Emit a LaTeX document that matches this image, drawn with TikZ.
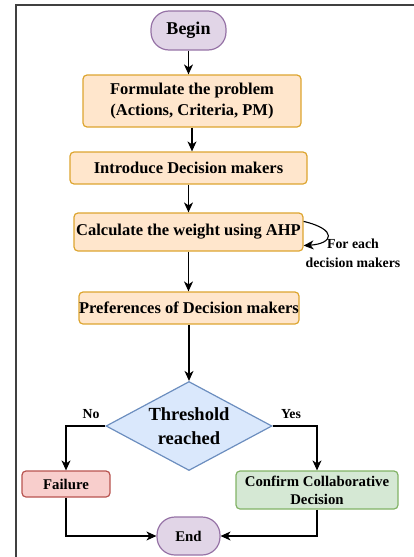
\documentclass[tikz,border=0pt]{standalone}
\usepackage{fontspec}
\setmainfont{Liberation Serif}
\usepackage{tikz}
\usetikzlibrary{arrows.meta,shapes.geometric}
\definecolor{termfill}{HTML}{E1D5E7}
\definecolor{termline}{HTML}{9673A6}
\definecolor{stepfill}{HTML}{FFE6CC}
\definecolor{stepline}{HTML}{DDA530}
\definecolor{testfill}{HTML}{DAE8FC}
\definecolor{testline}{HTML}{6C8EBF}
\definecolor{failfill}{HTML}{F8CECC}
\definecolor{failline}{HTML}{B85450}
\definecolor{okfill}{HTML}{D5E8D4}
\definecolor{okline}{HTML}{82B366}
\tikzset{
	term/.style={draw=termline, fill=termfill, line width=1.2pt, rounded corners=18pt, inner sep=0pt, font=\fontsize{18}{20}\selectfont\bfseries},
	stepbox/.style={draw=stepline, fill=stepfill, line width=1.2pt, rounded corners=4pt, inner sep=0pt, align=center, font=\fontsize{16.5}{21}\selectfont\bfseries},
	smallbox/.style={line width=1.2pt, rounded corners=4pt, inner sep=0pt, align=center, font=\fontsize{14.8}{18}\selectfont\bfseries},
	test/.style={diamond, draw=testline, fill=testfill, line width=1.2pt, inner sep=0pt, aspect=1.86, align=center, font=\fontsize{18.5}{24}\selectfont\bfseries},
	tag/.style={inner sep=0pt, align=center, font=\fontsize{13.8}{19}\selectfont\bfseries},
	arr/.style={-{Stealth[length=10pt,width=9pt,inset=3pt]}, line width=1.1pt, black},
}
\begin{document}
\begin{tikzpicture}[x=1pt,y=-1pt]
			%%%%% START %%%%%
			\useasboundingbox (0,0) rectangle (414,557);
			
			\draw[line width=1.5pt, color=black!75] (16,557) -- (16,5) -- (414,5);
			
			\node[term, minimum width=75pt, minimum height=39pt] (begin) at (188.5,30.5) {Begin};
			\node[stepbox, minimum width=218pt, minimum height=52pt] (formulate) at (192,101) {Formulate the problem\\(Actions, Criteria, PM)};
			\node[stepbox, minimum width=237pt, minimum height=32pt] (introduce) at (188.5,168) {Introduce Decision makers};
			\node[stepbox, minimum width=229pt, minimum height=38pt] (calc) at (188.5,232) {Calculate the weight using AHP};
			\node[stepbox, minimum width=220pt, minimum height=32pt] (pref) at (189,308) {Preferences of Decision makers};
			\node[test, minimum width=166pt, minimum height=89pt] (thresh) at (189,426) {Threshold\\reached};
			\node[smallbox, draw=failline, fill=failfill, minimum width=88pt, minimum height=26pt] (fail) at (66,484) {Failure};
			\node[smallbox, draw=okline, fill=okfill, minimum width=162pt, minimum height=38pt] (confirm) at (317,490) {Confirm Collaborative\\Decision};
			\node[term, minimum width=63pt, minimum height=38pt, font=\fontsize{14.8}{16}\selectfont\bfseries] (end) at (188.5,536) {End};
			
			\node[tag] (loop) at (353,253) {For each\\decision makers};
			\node[tag] (no) at (91,414) {No};
			\node[tag] (yes) at (291,414) {Yes};
			
			\draw[arr] (begin.south) -- (begin.south |- formulate.north);
			\draw[arr] (formulate.south) -- (formulate.south |- introduce.north);
			\draw[arr] (introduce) -- (calc);
			\draw[arr] (calc.south) -- (calc.south |- pref.north);
			\draw[arr] (pref.south) -- (pref.south |- thresh.north);
			\draw[arr] ([yshift=-9pt]calc.north east) .. controls +(34,8) and +(30,-2) .. ([yshift=6pt]calc.south east);
			
			\draw[arr] (thresh.west) -| (fail.north);
			\draw[arr] (thresh.east) -| (confirm.north);
			\draw[arr] (fail.south) |- (end.west);
			\draw[arr] (confirm.south) |- (end.east);
			
			%%%%% END %%%%%
\end{tikzpicture}
\end{document}
